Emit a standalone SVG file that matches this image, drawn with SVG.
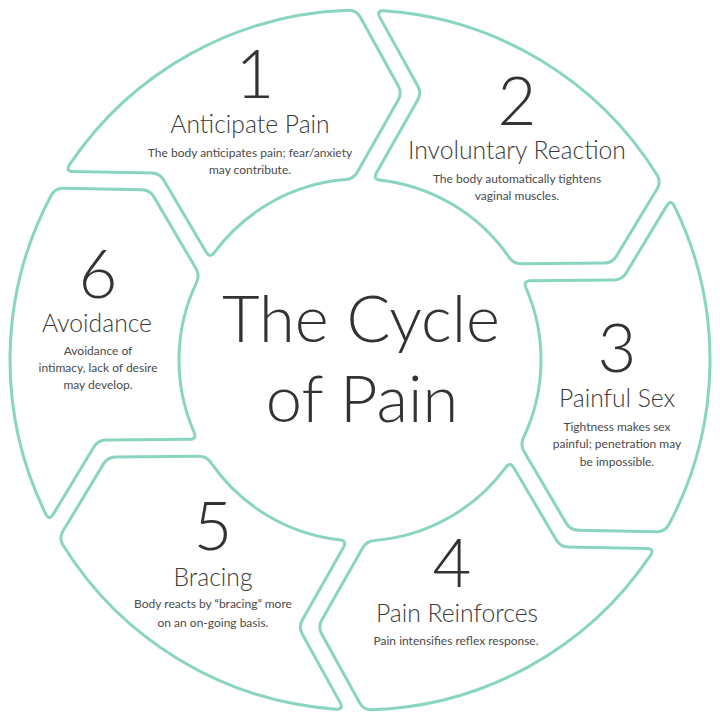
<svg xmlns="http://www.w3.org/2000/svg" xmlns:xlink="http://www.w3.org/1999/xlink" width="720" height="720" viewBox="0 0 720 720">
<style>
.seg{fill:#ffffff;stroke:#8ad4c2;stroke-width:3;stroke-linejoin:round}
.num{font-family:Lato,"Open Sans","Liberation Sans",sans-serif;font-weight:300;font-size:67px;fill:#333333;text-anchor:middle}
.ttl{font-family:Lato,"Open Sans","Liberation Sans",sans-serif;font-weight:300;font-size:24.7px;fill:#3a3a3a;text-anchor:middle}
.dsc{font-family:Lato,"Open Sans","Liberation Sans",sans-serif;font-weight:400;font-size:12px;fill:#4a4a4a;text-anchor:middle}
.big{font-family:Lato,"Open Sans","Liberation Sans",sans-serif;font-weight:300;font-size:65px;fill:#333333;text-anchor:middle}
</style>
<defs>
<path id="segshape" d="M 377.89,10.46 A 350 350 0 0 1 653.80,169.86 Q 658.12,176.64 654.11,183.56 L 614.63,251.67 Q 610.62,258.59 602.62,258.79 L 519.60,260.92 Q 511.60,261.12 507.07,254.49 A 181 181 0 0 0 377.51,179.85 Q 369.53,179.25 373.35,172.22 L 413.15,99.04 Q 416.97,92.01 412.98,85.08 L 373.88,17.08 Q 369.89,10.14 377.89,10.46 Z"/>
</defs>
<rect x="0" y="0" width="720" height="720" fill="#ffffff"/>
<g id="connectors"></g>
<g id="node1">
<use xlink:href="#segshape" href="#segshape" class="seg" transform="rotate(-59 360 360)"/>
<text class="num" x="255" y="98">1</text>
<text class="ttl" x="250" y="133">Anticipate Pain</text>
<text class="dsc" x="250" y="157">The body anticipates pain; fear/anxiety</text>
<text class="dsc" x="250" y="174">may contribute.</text>
</g>
<g id="node2">
<use xlink:href="#segshape" href="#segshape" class="seg" transform="rotate(1 360 360)"/>
<text class="num" x="517" y="125">2</text>
<text class="ttl" x="517" y="159">Involuntary Reaction</text>
<text class="dsc" x="517" y="183">The body automatically tightens</text>
<text class="dsc" x="517" y="200">vaginal muscles.</text>
</g>
<g id="node3">
<use xlink:href="#segshape" href="#segshape" class="seg" transform="rotate(61 360 360)"/>
<text class="num" x="617" y="372">3</text>
<text class="ttl" x="617" y="407">Painful Sex</text>
<text class="dsc" x="617" y="431">Tightness makes sex</text>
<text class="dsc" x="617" y="448">painful; penetration may</text>
<text class="dsc" x="617" y="466">be impossible.</text>
</g>
<g id="node4">
<use xlink:href="#segshape" href="#segshape" class="seg" transform="rotate(121 360 360)"/>
<text class="num" x="452" y="587">4</text>
<text class="ttl" x="457" y="622">Pain Reinforces</text>
<text class="dsc" x="456" y="645">Pain intensifies reflex response.</text>
</g>
<g id="node5">
<use xlink:href="#segshape" href="#segshape" class="seg" transform="rotate(181 360 360)"/>
<text class="num" x="213" y="550">5</text>
<text class="ttl" x="213" y="586">Bracing</text>
<text class="dsc" x="213" y="608">Body reacts by “bracing” more</text>
<text class="dsc" x="213" y="627">on an on-going basis.</text>
</g>
<g id="node6">
<use xlink:href="#segshape" href="#segshape" class="seg" transform="rotate(241 360 360)"/>
<text class="num" x="98" y="298">6</text>
<text class="ttl" x="97" y="332">Avoidance</text>
<text class="dsc" x="98" y="355">Avoidance of</text>
<text class="dsc" x="98" y="372">intimacy, lack of desire</text>
<text class="dsc" x="98" y="389">may develop.</text>
</g>
<g id="center">
<text class="big" x="361" y="342">The Cycle</text>
<text class="big" x="362" y="422">of Pain</text>
</g>
</svg>
